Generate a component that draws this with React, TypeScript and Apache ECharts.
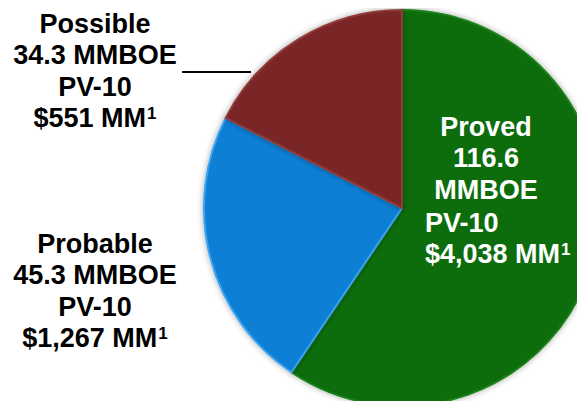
import React, { useEffect, useRef } from "react";
import * as echarts from "echarts";

const categories = ["Proved", "Probable", "Possible"];
const reservesMMBOE = [116.6, 45.3, 34.3];
const pv10MM = ["$4,038", "$1,267", "$551"];
const sliceColors = ["#0a6d0a", "#0b80d6", "#7a2725"];
const sliceEdgeColors = ["#1a811a", "#3aa2f0", "#8f3b38"];

const FONT = "'Liberation Sans', Arial, Helvetica, sans-serif";

export default function App() {
  const ref = useRef<HTMLDivElement>(null);
  useEffect(() => {
    if (!ref.current) return;
    const chart = echarts.init(ref.current, undefined, { renderer: "svg" });
    const baseRich = (color: string) => ({
      b: { fontFamily: FONT, fontWeight: "bold", fontSize: 27, lineHeight: 31.5, fill: color, color },
      sup: { fontFamily: FONT, fontWeight: "bold", fontSize: 17, lineHeight: 31.5, verticalAlign: "top", padding: [2, 0, 0, 1], fill: color, color },
    });
    const outsideLabel = (i: number) =>
      [
        `{b|${categories[i]}}`,
        `{b|${reservesMMBOE[i].toFixed(1)} MMBOE}`,
        `{b|PV-10}`,
        `{b|${pv10MM[i]} MM}{sup|1}`,
      ].join("\n");

    chart.setOption({
      animation: false,
      backgroundColor: "#ffffff",
      series: [
        {
          type: "pie",
          center: [394, 200],
          radius: 198,
          startAngle: 90,
          clockwise: true,
          z: 1,
          label: { show: false },
          labelLine: { show: false },
          emphasis: { disabled: true },
          itemStyle: {
            borderWidth: 2,
            shadowBlur: 6,
            shadowColor: "rgba(0,0,0,0.35)",
          },
          data: categories.map((c, i) => ({
            name: c,
            value: reservesMMBOE[i],
            itemStyle: { color: sliceColors[i], borderColor: sliceEdgeColors[i] },
          })),
        },
      ],
      graphic: [
        {
          type: "text",
          x: 87,
          y: 0,
          z: 100,
          style: {
            text: outsideLabel(2),
            align: "center",
            verticalAlign: "top",
            rich: baseRich("#000000"),
          },
        },
        {
          type: "text",
          x: 87,
          y: 220,
          z: 100,
          style: {
            text: outsideLabel(1),
            align: "center",
            verticalAlign: "top",
            rich: baseRich("#000000"),
          },
        },
        {
          type: "line",
          z: 100,
          shape: { x1: 174, y1: 64, x2: 243, y2: 64 },
          style: { stroke: "#000000", lineWidth: 2 },
        },
        {
          type: "text",
          x: 478,
          y: 103,
          z: 100,
          style: {
            text: [`{b|${categories[0]}}`, `{b|${reservesMMBOE[0].toFixed(1)}}`, `{b|MMBOE}`].join("\n"),
            align: "center",
            verticalAlign: "top",
            rich: baseRich("#ffffff"),
          },
        },
        {
          type: "text",
          x: 417,
          y: 199,
          z: 100,
          style: {
            text: [`{b|PV-10}`, `{b|${pv10MM[0]} MM}{sup|1}`].join("\n"),
            align: "left",
            verticalAlign: "top",
            rich: baseRich("#ffffff"),
          },
        },
      ],
    });
    return () => chart.dispose();
  }, []);
  return <div ref={ref} style={{ width: 577, height: 393 }} />;
}
